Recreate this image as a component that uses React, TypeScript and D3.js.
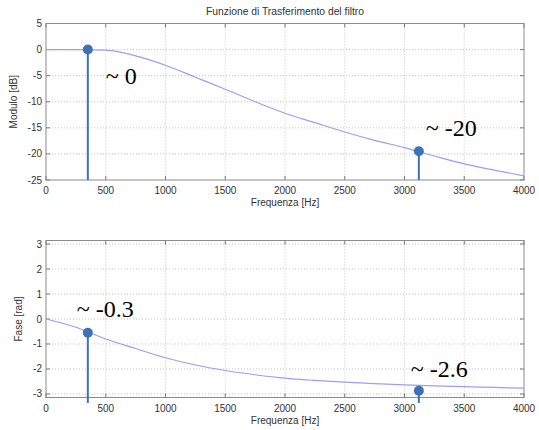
import React, { useEffect, useRef } from 'react';
import * as d3 from 'd3';

// frequency grid (Hz) where the curves were read
const freqs = [0, 250, 500, 750, 1000, 1250, 1500, 1750, 2000, 2250, 2500, 2750, 3000, 3250, 3500, 3750, 4000];
// module in dB
const moduloDb = [0, 0, -0.1, -1.2, -3.0, -5.3, -7.6, -10.0, -12.2, -14.0, -15.8, -17.4, -18.8, -20.4, -21.9, -23.1, -24.2];
// phase in rad
const faseRad = [0, -0.33, -0.8, -1.18, -1.55, -1.84, -2.06, -2.23, -2.37, -2.46, -2.53, -2.59, -2.64, -2.68, -2.71, -2.74, -2.77];

const xTicks = [0, 500, 1000, 1500, 2000, 2500, 3000, 3500, 4000];
const moduloTicks = [5, 0, -5, -10, -15, -20, -25];
const faseTicks = [3, 2, 1, 0, -1, -2, -3];

// stem markers
const moduloStems = [
  { f: 350, v: 0, label: '~ 0' },
  { f: 3120, v: -19.5, label: '~ -20' },
];
const faseStems = [
  { f: 350, v: -0.55, label: '~ -0.3' },
  { f: 3120, v: -2.87, label: '~ -2.6' },
];

const W = 539;
const H = 430;
const left = 46;
const right = 524;

const sans = 'Liberation Sans, Arial, sans-serif';
const serif = 'Liberation Serif, Times New Roman, DejaVu Serif, serif';

function drawPanel(svg, opts) {
  const { top, bottom, domain, yTicks, values, stems, stemBase, yLabel, yLabelX, labelOffsets, title } = opts;
  const x = d3.scaleLinear().domain([0, 4000]).range([left, right]);
  const y = d3.scaleLinear().domain(domain).range([bottom, top]);

  const g = svg.append('g');

  g.append('rect')
    .attr('x', left).attr('y', top)
    .attr('width', right - left).attr('height', bottom - top)
    .attr('fill', '#fff');

  // grid
  g.selectAll('.vgrid').data(xTicks.slice(1, -1)).enter().append('line')
    .attr('x1', d => x(d)).attr('x2', d => x(d))
    .attr('y1', top).attr('y2', bottom)
    .attr('stroke', '#c4c4c4').attr('stroke-width', 1).attr('stroke-dasharray', '1,2');
  g.selectAll('.hgrid').data(yTicks.filter(t => y(t) > top + 1 && y(t) < bottom - 1)).enter().append('line')
    .attr('x1', left).attr('x2', right)
    .attr('y1', d => y(d)).attr('y2', d => y(d))
    .attr('stroke', '#c4c4c4').attr('stroke-width', 1).attr('stroke-dasharray', '1,2');

  // inward ticks on all sides
  xTicks.forEach(t => {
    g.append('line').attr('x1', x(t)).attr('x2', x(t)).attr('y1', bottom).attr('y2', bottom - 4).attr('stroke', '#777');
    g.append('line').attr('x1', x(t)).attr('x2', x(t)).attr('y1', top).attr('y2', top + 4).attr('stroke', '#777');
  });
  yTicks.forEach(t => {
    g.append('line').attr('x1', left).attr('x2', left + 4).attr('y1', y(t)).attr('y2', y(t)).attr('stroke', '#777');
    g.append('line').attr('x1', right).attr('x2', right - 4).attr('y1', y(t)).attr('y2', y(t)).attr('stroke', '#777');
  });

  g.append('rect')
    .attr('x', left).attr('y', top)
    .attr('width', right - left).attr('height', bottom - top)
    .attr('fill', 'none').attr('stroke', '#8a8a8a').attr('stroke-width', 1);

  // tick labels
  g.selectAll('.xt').data(xTicks).enter().append('text')
    .attr('x', d => x(d)).attr('y', bottom + 14)
    .attr('text-anchor', 'middle')
    .attr('font-family', sans).attr('font-size', 10).attr('fill', '#333')
    .text(d => d);
  g.selectAll('.yt').data(yTicks).enter().append('text')
    .attr('x', left - 4).attr('y', d => y(d) + 3.5)
    .attr('text-anchor', 'end')
    .attr('font-family', sans).attr('font-size', 10).attr('fill', '#333')
    .text(d => d);

  g.append('text')
    .attr('x', (left + right) / 2).attr('y', bottom + 26)
    .attr('text-anchor', 'middle')
    .attr('font-family', sans).attr('font-size', 10).attr('fill', '#333')
    .text('Frequenza [Hz]');

  g.append('text')
    .attr('transform', `translate(${yLabelX}, ${(top + bottom) / 2}) rotate(-90)`)
    .attr('text-anchor', 'middle')
    .attr('font-family', sans).attr('font-size', 10).attr('fill', '#333')
    .text(yLabel);

  if (title) {
    g.append('text')
      .attr('x', (left + right) / 2).attr('y', top - 9)
      .attr('text-anchor', 'middle')
      .attr('font-family', sans).attr('font-size', 10.3).attr('fill', '#333')
      .text(title);
  }

  // curve
  const line = d3.line()
    .x((d, i) => x(freqs[i]))
    .y(d => y(d))
    .curve(d3.curveMonotoneX);
  g.append('path')
    .datum(values)
    .attr('d', line)
    .attr('fill', 'none')
    .attr('stroke', '#9c9cff')
    .attr('stroke-width', 1.2);

  // stems + annotations
  stems.forEach((s, i) => {
    g.append('line')
      .attr('x1', x(s.f)).attr('x2', x(s.f))
      .attr('y1', y(s.v)).attr('y2', y(stemBase))
      .attr('stroke', '#3d72b6').attr('stroke-width', 2);
    g.append('circle')
      .attr('cx', x(s.f)).attr('cy', y(s.v)).attr('r', 5)
      .attr('fill', '#3d72b6');
    g.append('text')
      .attr('x', x(s.f) + labelOffsets[i][0]).attr('y', y(s.v) + labelOffsets[i][1])
      .attr('font-family', serif).attr('font-size', 24).attr('fill', '#000')
      .text(s.label);
  });
}

export default function App() {
  const ref = useRef(null);

  useEffect(() => {
    const svg = d3.select(ref.current);
    svg.selectAll('*').remove();
    svg.append('rect').attr('width', W).attr('height', H).attr('fill', '#fff');

    drawPanel(svg, {
      top: 23.5, bottom: 180,
      domain: [-25, 5],
      yTicks: moduloTicks,
      values: moduloDb,
      stems: moduloStems,
      stemBase: -25,
      yLabel: 'Modulo [dB]',
      yLabelX: 17,
      labelOffsets: [[18, 34], [7, -15]],
      title: 'Funzione di Trasferimento del filtro',
    });

    drawPanel(svg, {
      top: 240.5, bottom: 397.5,
      domain: [-Math.PI, Math.PI],
      yTicks: faseTicks,
      values: faseRad,
      stems: faseStems,
      stemBase: -3.36,
      yLabel: 'Fase [rad]',
      yLabelX: 22,
      labelOffsets: [[-11, -16], [-8, -14]],
      title: null,
    });
  }, []);

  return (
    <svg ref={ref} width={W} height={H} style={{ position: 'absolute', left: 0, top: 0 }} />
  );
}
